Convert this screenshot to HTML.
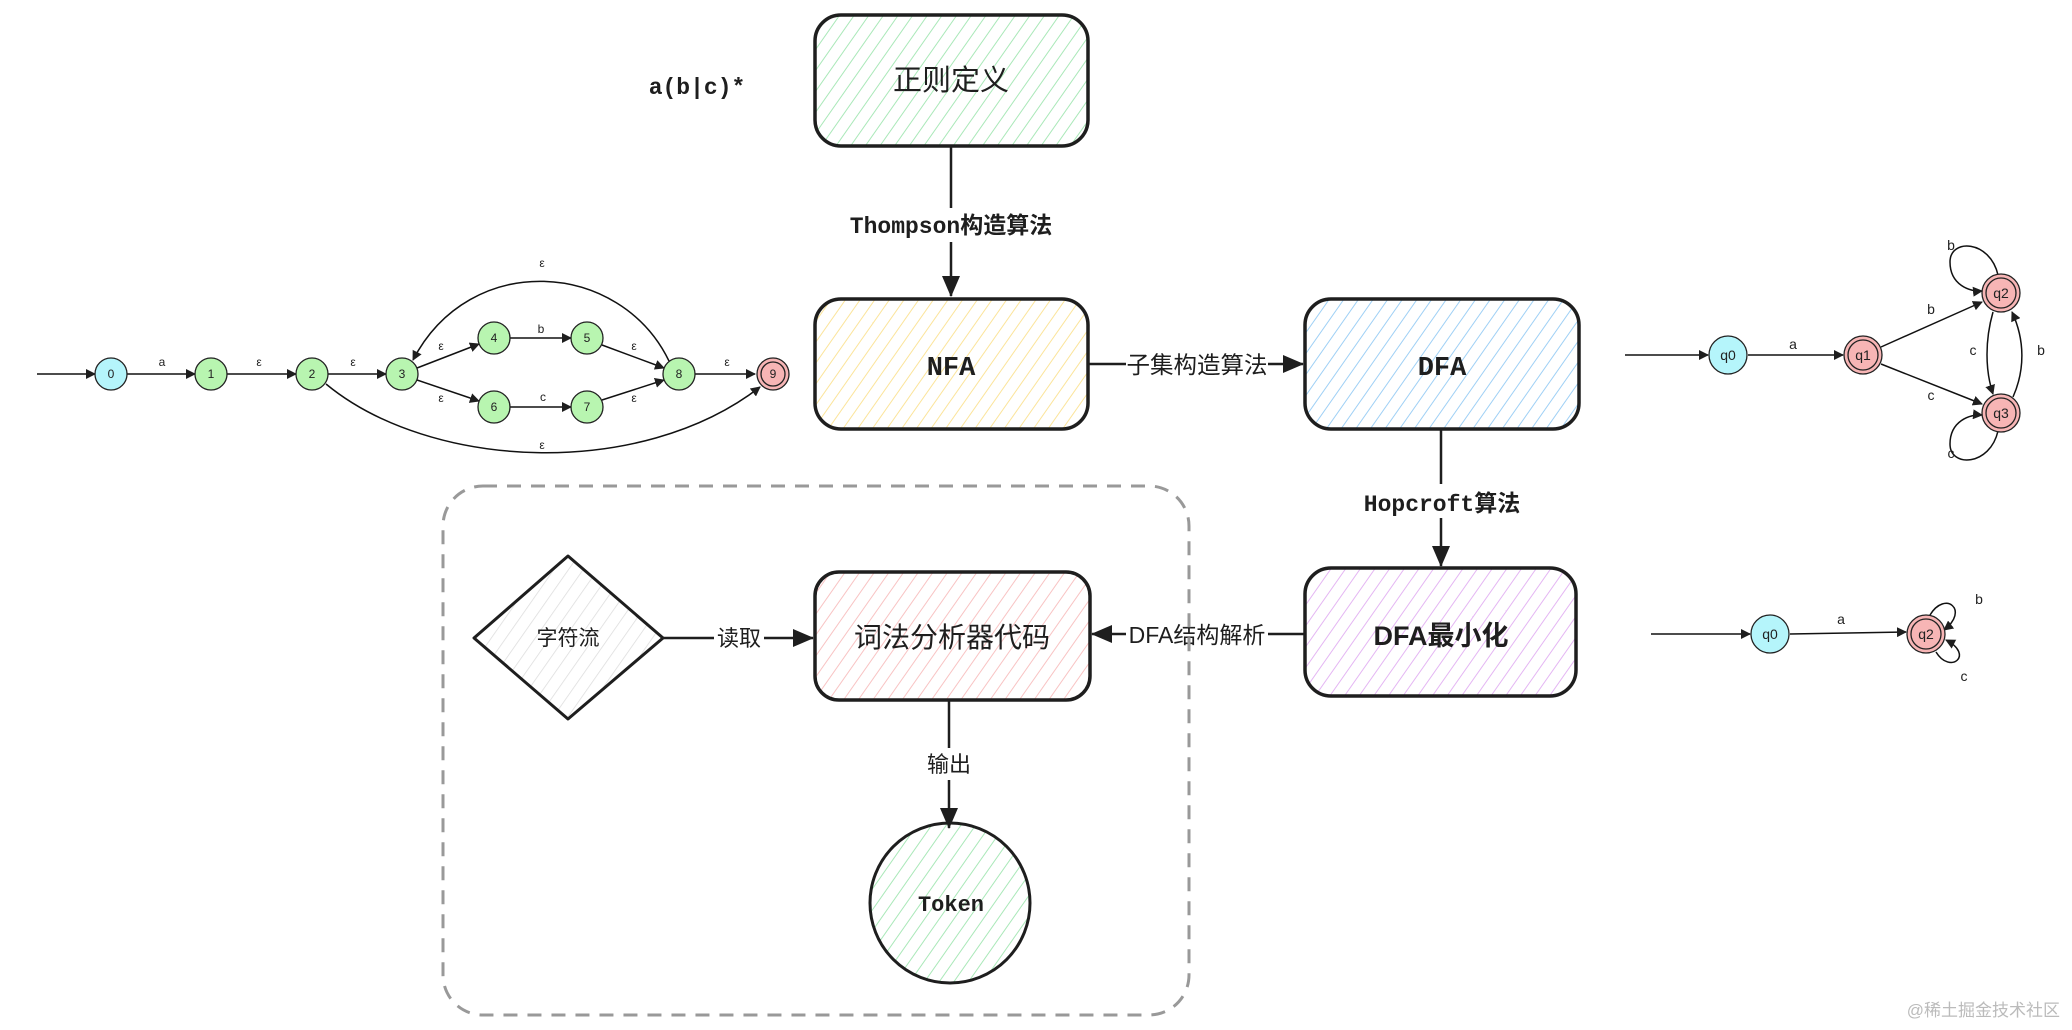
<!DOCTYPE html>
<html><head><meta charset="utf-8"><style>
html,body{margin:0;padding:0;background:#fff;}
svg{display:block;}
.t{font-family:"Liberation Sans","Noto Sans CJK SC",sans-serif;fill:#1e1e1e;}
.m{font-family:"Liberation Mono","Noto Sans CJK SC",monospace;fill:#1e1e1e;}
.s{font-family:"Liberation Sans",sans-serif;fill:#222;font-size:12px;}
</style></head><body>
<svg width="2072" height="1030" viewBox="0 0 2072 1030" xmlns="http://www.w3.org/2000/svg">
<defs>
<pattern id="pg" width="12" height="12" patternUnits="userSpaceOnUse" patternTransform="rotate(35)"><line x1="0" y1="0" x2="0" y2="12" stroke="#a9e8b8" stroke-width="2"/></pattern>
<pattern id="py" width="12" height="12" patternUnits="userSpaceOnUse" patternTransform="rotate(35)"><line x1="0" y1="0" x2="0" y2="12" stroke="#fbe49a" stroke-width="2"/></pattern>
<pattern id="pb" width="12" height="12" patternUnits="userSpaceOnUse" patternTransform="rotate(35)"><line x1="0" y1="0" x2="0" y2="12" stroke="#9fd0f5" stroke-width="2"/></pattern>
<pattern id="pp" width="12" height="12" patternUnits="userSpaceOnUse" patternTransform="rotate(35)"><line x1="0" y1="0" x2="0" y2="12" stroke="#e4b6f3" stroke-width="2"/></pattern>
<pattern id="pr" width="12" height="12" patternUnits="userSpaceOnUse" patternTransform="rotate(35)"><line x1="0" y1="0" x2="0" y2="12" stroke="#f8c3c3" stroke-width="2"/></pattern>
<pattern id="pe" width="12" height="12" patternUnits="userSpaceOnUse" patternTransform="rotate(35)"><line x1="0" y1="0" x2="0" y2="12" stroke="#dcdcdc" stroke-width="1.5"/></pattern>
<marker id="ab" markerWidth="10" markerHeight="10" refX="9" refY="5" orient="auto" markerUnits="userSpaceOnUse"><path d="M0,0 L10,5 L0,10z" fill="#1e1e1e"/></marker>
<marker id="big" markerWidth="22" markerHeight="22" refX="20" refY="11" orient="auto" markerUnits="userSpaceOnUse"><path d="M0,2 L21,11 L0,20z" fill="#1e1e1e"/></marker>
</defs>

<rect x="815" y="15" width="273" height="131" rx="26" fill="url(#pg)" stroke="#1e1e1e" stroke-width="3.5"/>
<text x="951" y="90" class="t" font-size="29" text-anchor="middle">正则定义</text>
<text x="697" y="94" class="m" font-size="23" font-weight="bold" text-anchor="middle">a(b|c)*</text>

<line x1="951" y1="146" x2="951" y2="296" stroke="#1e1e1e" stroke-width="2.5" marker-end="url(#big)"/>
<rect x="845" y="208" width="212" height="34" fill="#fff"/>
<text x="951" y="233" class="m" font-size="23" font-weight="bold" text-anchor="middle">Thompson构造算法</text>

<rect x="815" y="299" width="273" height="130" rx="26" fill="url(#py)" stroke="#1e1e1e" stroke-width="3.5"/>
<text x="951" y="375" class="m" font-size="27" font-weight="bold" text-anchor="middle">NFA</text>

<line x1="1088" y1="364" x2="1303" y2="364" stroke="#1e1e1e" stroke-width="2.5" marker-end="url(#big)"/>
<rect x="1126" y="346" width="142" height="34" fill="#fff"/>
<text x="1197" y="373" class="t" font-size="23.5" text-anchor="middle">子集构造算法</text>

<rect x="1305" y="299" width="274" height="130" rx="26" fill="url(#pb)" stroke="#1e1e1e" stroke-width="3.5"/>
<text x="1442" y="375" class="m" font-size="27" font-weight="bold" text-anchor="middle">DFA</text>

<line x1="1441" y1="429" x2="1441" y2="566" stroke="#1e1e1e" stroke-width="2.5" marker-end="url(#big)"/>
<rect x="1360" y="484" width="164" height="34" fill="#fff"/>
<text x="1442" y="511" class="m" font-size="23" font-weight="bold" text-anchor="middle">Hopcroft算法</text>

<rect x="1305" y="568" width="271" height="128" rx="26" fill="url(#pp)" stroke="#1e1e1e" stroke-width="3.5"/>
<text x="1441" y="645" class="t" font-size="27" font-weight="bold" text-anchor="middle">DFA最小化</text>

<line x1="1305" y1="634" x2="1092" y2="634" stroke="#1e1e1e" stroke-width="2.5" marker-end="url(#big)"/>
<rect x="1126" y="617" width="142" height="34" fill="#fff"/>
<text x="1197" y="643" class="t" font-size="23" text-anchor="middle">DFA结构解析</text>

<rect x="443" y="486" width="746" height="529" rx="40" fill="none" stroke="#999" stroke-width="3" stroke-dasharray="14,10"/>

<rect x="815" y="572" width="275" height="128" rx="24" fill="url(#pr)" stroke="#1e1e1e" stroke-width="3.5"/>
<text x="952" y="647" class="t" font-size="28" text-anchor="middle">词法分析器代码</text>

<polygon points="568,556 663,638 568,719 474,638" fill="url(#pe)" stroke="#1e1e1e" stroke-width="3" stroke-linejoin="round"/>
<text x="568" y="645" class="t" font-size="21" text-anchor="middle">字符流</text>

<line x1="663" y1="638" x2="813" y2="638" stroke="#1e1e1e" stroke-width="2.5" marker-end="url(#big)"/>
<rect x="714" y="621" width="50" height="34" fill="#fff"/>
<text x="739" y="646" class="t" font-size="22" text-anchor="middle">读取</text>

<line x1="949" y1="700" x2="949" y2="828" stroke="#1e1e1e" stroke-width="2.5" marker-end="url(#big)"/>
<rect x="924" y="748" width="50" height="32" fill="#fff"/>
<text x="949" y="772" class="t" font-size="22" text-anchor="middle">输出</text>

<circle cx="950" cy="903" r="80" fill="url(#pg)" stroke="#1e1e1e" stroke-width="3"/>
<text x="951" y="911" class="m" font-size="22" font-weight="bold" text-anchor="middle">Token</text>

<g stroke="#111" stroke-width="1.5" fill="none">
<line x1="37" y1="374" x2="95" y2="374" marker-end="url(#ab)"/>
<line x1="127" y1="374" x2="195" y2="374" marker-end="url(#ab)"/>
<line x1="227" y1="374" x2="296" y2="374" marker-end="url(#ab)"/>
<line x1="328" y1="374" x2="386" y2="374" marker-end="url(#ab)"/>
<line x1="417" y1="368" x2="479" y2="344" marker-end="url(#ab)"/>
<line x1="417" y1="380" x2="479" y2="401" marker-end="url(#ab)"/>
<line x1="510" y1="338" x2="571" y2="338" marker-end="url(#ab)"/>
<line x1="510" y1="407" x2="571" y2="407" marker-end="url(#ab)"/>
<line x1="602" y1="345" x2="664" y2="368" marker-end="url(#ab)"/>
<line x1="602" y1="400" x2="664" y2="380" marker-end="url(#ab)"/>
<line x1="695" y1="374" x2="755" y2="374" marker-end="url(#ab)"/>
<path d="M669,361 C620,260 470,250 413,360" marker-end="url(#ab)"/>
<path d="M326,384 C430,470 640,480 760,387" marker-end="url(#ab)"/>
</g>
<g stroke="#222" stroke-width="1.3">
<circle cx="111" cy="374" r="16" fill="#b5f5fb"/>
<circle cx="211" cy="374" r="16" fill="#b8f5b0"/>
<circle cx="312" cy="374" r="16" fill="#b8f5b0"/>
<circle cx="402" cy="374" r="16" fill="#b8f5b0"/>
<circle cx="494" cy="338" r="16" fill="#b8f5b0"/>
<circle cx="587" cy="338" r="16" fill="#b8f5b0"/>
<circle cx="494" cy="407" r="16" fill="#b8f5b0"/>
<circle cx="587" cy="407" r="16" fill="#b8f5b0"/>
<circle cx="679" cy="374" r="16" fill="#b8f5b0"/>
<circle cx="773" cy="374" r="16" fill="#f7b5b5"/>
<circle cx="773" cy="374" r="12" fill="none"/>
</g>
<g class="s" text-anchor="middle">
<text x="111" y="378">0</text><text x="211" y="378">1</text><text x="312" y="378">2</text><text x="402" y="378">3</text>
<text x="494" y="342">4</text><text x="587" y="342">5</text><text x="494" y="411">6</text><text x="587" y="411">7</text>
<text x="679" y="378">8</text><text x="773" y="378">9</text>
<text x="162" y="366">a</text><text x="259" y="366">ε</text><text x="353" y="366">ε</text><text x="441" y="350">ε</text>
<text x="441" y="402">ε</text><text x="541" y="333">b</text><text x="543" y="401">c</text><text x="634" y="350">ε</text>
<text x="634" y="402">ε</text><text x="727" y="366">ε</text><text x="542" y="267">ε</text><text x="542" y="449">ε</text>
</g>

<g stroke="#111" stroke-width="1.5" fill="none">
<line x1="1625" y1="355" x2="1708" y2="355" marker-end="url(#ab)"/>
<line x1="1748" y1="355" x2="1843" y2="355" marker-end="url(#ab)"/>
<line x1="1881" y1="347" x2="1982" y2="302" marker-end="url(#ab)"/>
<line x1="1881" y1="364" x2="1982" y2="404" marker-end="url(#ab)"/>
<path d="M1993,312 C1985,340 1985,370 1993,394" marker-end="url(#ab)"/>
<path d="M2013,397 C2025,370 2025,340 2012,312" marker-end="url(#ab)"/>
<path d="M1998,275 C1990,240 1950,238 1950,262 C1950,285 1970,292 1982,291" marker-end="url(#ab)"/>
<path d="M1998,431 C1990,466 1950,468 1950,444 C1950,421 1970,414 1982,415" marker-end="url(#ab)"/>
<line x1="1651" y1="634" x2="1750" y2="634" marker-end="url(#ab)"/>
<line x1="1790" y1="634" x2="1906" y2="632" marker-end="url(#ab)"/>
<path d="M1930,615 C1945,590 1970,610 1944,630" marker-end="url(#ab)"/>
<path d="M1936,652 C1950,675 1975,655 1946,640" marker-end="url(#ab)"/>
</g>
<g stroke="#222" stroke-width="1.3">
<circle cx="1728" cy="355" r="19" fill="#b5f5fb"/>
<circle cx="1863" cy="355" r="19" fill="#f7b5b5"/><circle cx="1863" cy="355" r="15" fill="none"/>
<circle cx="2001" cy="293" r="19" fill="#f7b5b5"/><circle cx="2001" cy="293" r="15" fill="none"/>
<circle cx="2001" cy="413" r="19" fill="#f7b5b5"/><circle cx="2001" cy="413" r="15" fill="none"/>
<circle cx="1770" cy="634" r="19" fill="#b5f5fb"/>
<circle cx="1926" cy="634" r="19" fill="#f7b5b5"/><circle cx="1926" cy="634" r="15" fill="none"/>
</g>
<g class="s" text-anchor="middle">
<text x="1728" y="360" font-size="14">q0</text><text x="1863" y="360" font-size="14">q1</text>
<text x="2001" y="298" font-size="14">q2</text><text x="2001" y="418" font-size="14">q3</text>
<text x="1793" y="349" font-size="14">a</text><text x="1931" y="314" font-size="14">b</text>
<text x="1931" y="400" font-size="14">c</text><text x="1973" y="355" font-size="14">c</text>
<text x="2041" y="355" font-size="14">b</text><text x="1951" y="250" font-size="14">b</text>
<text x="1951" y="458" font-size="14">c</text>
<text x="1770" y="639" font-size="14">q0</text><text x="1926" y="639" font-size="14">q2</text>
<text x="1841" y="624" font-size="14">a</text><text x="1979" y="604" font-size="14">b</text>
<text x="1964" y="681" font-size="14">c</text>
</g>

<text x="2060" y="1016" class="t" font-size="17" style="fill:#bbb" text-anchor="end">@稀土掘金技术社区</text>
</svg>
</body></html>
